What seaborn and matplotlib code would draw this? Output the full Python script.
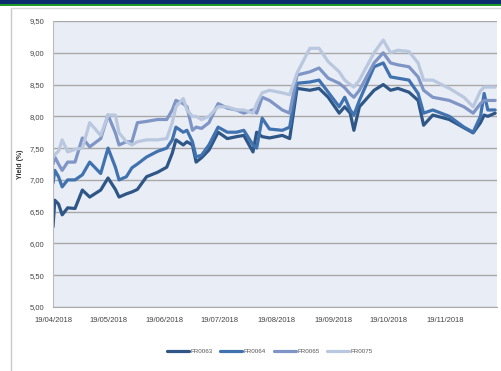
import pandas as pd
import matplotlib.pyplot as plt
import matplotlib.dates as mdates
from matplotlib.patches import Rectangle
from matplotlib.lines import Line2D
import seaborn as sns

dates = ["2018-04-19", "2018-04-20", "2018-04-22", "2018-04-24", "2018-04-27", "2018-05-01",
         "2018-05-05", "2018-05-09", "2018-05-15", "2018-05-19", "2018-05-23", "2018-05-25",
         "2018-05-29", "2018-06-01", "2018-06-04", "2018-06-09", "2018-06-15", "2018-06-20",
         "2018-06-23", "2018-06-25", "2018-06-29", "2018-07-01", "2018-07-04", "2018-07-06",
         "2018-07-09", "2018-07-13", "2018-07-18", "2018-07-23", "2018-07-28", "2018-08-01",
         "2018-08-06", "2018-08-08", "2018-08-11", "2018-08-15", "2018-08-22", "2018-08-26",
         "2018-08-30", "2018-09-06", "2018-09-11", "2018-09-16", "2018-09-22", "2018-09-25",
         "2018-09-28", "2018-09-30", "2018-10-03", "2018-10-11", "2018-10-16", "2018-10-20",
         "2018-10-24", "2018-10-30", "2018-11-04", "2018-11-07", "2018-11-12", "2018-11-21",
         "2018-11-29", "2018-12-04", "2018-12-08", "2018-12-10", "2018-12-12", "2018-12-16"]

fr0063 = [6.26, 6.68, 6.62, 6.45, 6.56, 6.55, 6.84, 6.73, 6.84, 7.03, 6.85, 6.73,
          6.78, 6.81, 6.85, 7.05, 7.12, 7.20, 7.42, 7.63, 7.55, 7.60, 7.55, 7.28,
          7.35, 7.47, 7.75, 7.65, 7.68, 7.70, 7.44, 7.75, 7.68, 7.66, 7.70, 7.65,
          8.44, 8.41, 8.44, 8.30, 8.05, 8.15, 8.05, 7.78, 8.15, 8.41, 8.50, 8.41,
          8.44, 8.38, 8.25, 7.86, 8.02, 7.95, 7.82, 7.74, 7.90, 8.02, 8.00, 8.05]
fr0064 = [6.95, 7.15, 7.05, 6.89, 7.00, 7.00, 7.08, 7.28, 7.10, 7.50, 7.20, 7.00,
          7.05, 7.19, 7.25, 7.36, 7.45, 7.50, 7.63, 7.83, 7.75, 7.78, 7.60, 7.36,
          7.39, 7.55, 7.83, 7.75, 7.75, 7.78, 7.55, 7.50, 7.97, 7.80, 7.78, 7.83,
          8.52, 8.54, 8.57, 8.38, 8.15, 8.30, 8.10, 8.02, 8.25, 8.78, 8.84, 8.62,
          8.60, 8.57, 8.36, 8.05, 8.10, 8.00, 7.83, 7.75, 8.00, 8.36, 8.10, 8.10]
fr0065 = [7.25, 7.36, 7.25, 7.15, 7.28, 7.28, 7.66, 7.52, 7.65, 8.02, 7.74, 7.55,
          7.60, 7.60, 7.90, 7.92, 7.95, 7.95, 8.10, 8.25, 8.20, 8.15, 7.78, 7.83,
          7.81, 7.90, 8.20, 8.13, 8.10, 8.05, 8.10, 8.05, 8.30, 8.25, 8.10, 8.05,
          8.65, 8.70, 8.76, 8.60, 8.52, 8.45, 8.35, 8.30, 8.41, 8.84, 9.00, 8.84,
          8.81, 8.78, 8.62, 8.41, 8.30, 8.25, 8.15, 8.05, 8.20, 8.25, 8.25, 8.25]
fr0075 = [7.35, 7.40, 7.45, 7.63, 7.44, 7.48, 7.50, 7.90, 7.70, 8.02, 8.02, 7.74,
          7.60, 7.55, 7.60, 7.63, 7.63, 7.65, 7.90, 8.15, 8.28, 8.10, 8.00, 8.00,
          7.95, 8.00, 8.15, 8.15, 8.10, 8.10, 8.05, 8.20, 8.37, 8.41, 8.37, 8.34,
          8.68, 9.07, 9.07, 8.86, 8.70, 8.57, 8.50, 8.46, 8.57, 9.00, 9.20, 9.00,
          9.04, 9.02, 8.84, 8.57, 8.57, 8.44, 8.30, 8.15, 8.40, 8.46, 8.46, 8.46]

series = ["FR0063", "FR0064", "FR0065", "FR0075"]
colors = ["#2e5686", "#4172b0", "#7f95c6", "#b9c7df"]
yticks = [5.0, 5.5, 6.0, 6.5, 7.0, 7.5, 8.0, 8.5, 9.0, 9.5]
xticks = ["2018-04-19", "2018-05-19", "2018-06-19", "2018-07-19",
          "2018-08-19", "2018-09-19", "2018-10-19", "2018-11-19"]

df = pd.DataFrame({"date": pd.to_datetime(dates), "FR0063": fr0063, "FR0064": fr0064,
                   "FR0065": fr0065, "FR0075": fr0075})
long = df.melt(id_vars="date", var_name="series", value_name="yield")

sns.set_style("white")
plt.rcParams['font.family'] = ['Liberation Sans', 'DejaVu Sans']

fig = plt.figure(figsize=(5.02, 3.71), dpi=100)
# header band
fig.patches.append(Rectangle((0, 1 - 4 / 371), 1, 4 / 371, transform=fig.transFigure,
                             facecolor="#0b2d6e", edgecolor="none"))
fig.patches.append(Rectangle((0, 1 - 6 / 371), 1, 2 / 371, transform=fig.transFigure,
                             facecolor="#1f9a2a", edgecolor="none"))
fig.lines.append(Line2D([11 / 502, 11 / 502], [0, 1 - 8 / 371], transform=fig.transFigure,
                        color="#c8c8c8", lw=1))
fig.lines.append(Line2D([11 / 502, 1], [1 - 8 / 371, 1 - 8 / 371], transform=fig.transFigure,
                        color="#d8d8d8", lw=1))

ax = fig.add_axes([53 / 502, 64 / 371, 444 / 502, 286 / 371])
ax.set_facecolor("#e9edf5")

sns.lineplot(data=long, x="date", y="yield", hue="series", hue_order=series,
             palette=colors, linewidth=2.3, ax=ax, legend=False)

ax.set_ylim(5.0, 9.5)
ax.set_xlim(pd.Timestamp("2018-04-19"), pd.Timestamp("2018-12-17"))
ax.set_yticks(yticks)
ax.set_yticklabels([f"{v:.2f}".replace(".", ",") for v in yticks], fontsize=5.5, color="#444444")
ax.set_xticks(pd.to_datetime(xticks))
ax.xaxis.set_major_formatter(mdates.DateFormatter("%d/%m/%Y"))
ax.tick_params(axis="x", labelsize=5.5, colors="#444444", length=2, pad=5)
ax.tick_params(axis="y", length=3, pad=3, color="#999999")
ax.grid(axis="y", color="#a8a8a8", linewidth=1)
ax.set_xlabel("")
ax.set_ylabel("Yield (%)", fontsize=5, fontweight="bold", color="#333333", labelpad=4)
for side in ["top", "right"]:
    ax.spines[side].set_visible(False)
ax.spines["left"].set_color("#bbbbbb")
ax.spines["bottom"].set_color("#aaaaaa")

handles = [Line2D([0], [0], color=c, lw=2.3) for c in colors]
fig.legend(handles, series, loc="center", bbox_to_anchor=(270 / 502, 1 - 351 / 371),
           ncol=4, frameon=False, fontsize=4.5, handlelength=3.5, handletextpad=0.3,
           columnspacing=1.2, labelcolor="#555555")

fig.savefig("out.png", dpi=100, facecolor="white")
